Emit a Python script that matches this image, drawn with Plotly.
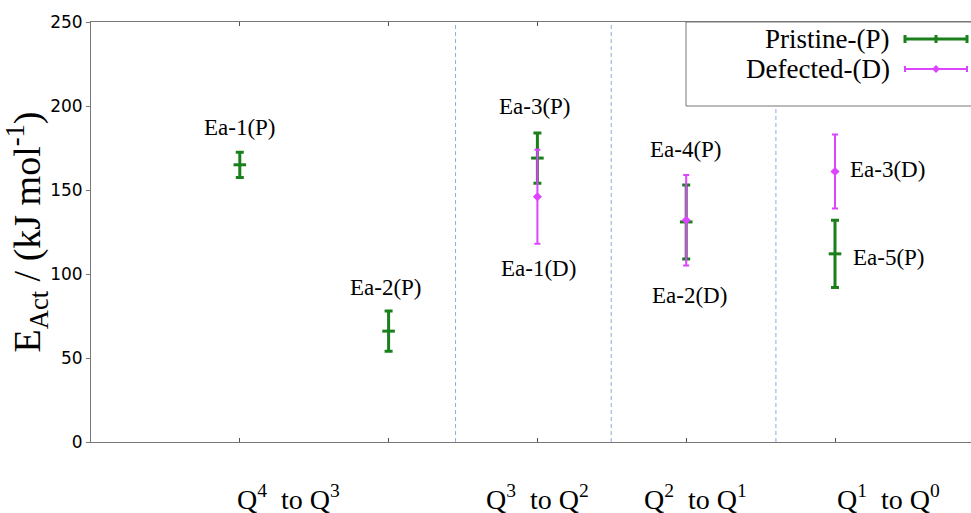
import plotly.graph_objects as go

# ---- data ----
pristine_labels = ["Ea-1(P)", "Ea-2(P)", "Ea-3(P)", "Ea-4(P)", "Ea-5(P)"]
pristine_x = [1, 2, 3, 4, 5]
pristine_y = [165, 66, 169, 131, 112]
pristine_err = [7.5, 12, 15, 22, 20]

defected_labels = ["Ea-1(D)", "Ea-2(D)", "Ea-3(D)"]
defected_x = [3, 4, 5]
defected_y = [146, 132, 161]
defected_err = [28, 27, 22]

group_labels = ["Q<sup>4</sup>  to Q<sup>3</sup>", "Q<sup>3</sup>  to Q<sup>2</sup>",
                "Q<sup>2</sup>  to Q<sup>1</sup>", "Q<sup>1</sup>  to Q<sup>0</sup>"]
group_label_x = [1.33, 3.0, 4.06, 5.36]
separator_x = [2.45, 3.496, 4.603]

# label positions (data coords)
pristine_label_pos = [(1.0, 187), (1.98, 92), (2.985, 200), (4.0, 174), (5.36, 110)]
defected_label_pos = [(3.005, 103), (4.02, 87.5), (5.35, 162)]

GREEN = "#1b7f1b"
MAGENTA = "#dd44ff"
SERIF = "Liberation Serif, Times New Roman, serif"
SANS = "DejaVu Sans, sans-serif"

fig = go.Figure()

fig.add_trace(go.Scatter(
    x=pristine_x, y=pristine_y, mode="markers", name="Pristine-(P)",
    marker=dict(symbol="line-ew", size=9, color=GREEN, line=dict(color=GREEN, width=3)),
    error_y=dict(type="data", array=pristine_err, color=GREEN, thickness=3, width=4),
    showlegend=False,
))
fig.add_trace(go.Scatter(
    x=defected_x, y=defected_y, mode="markers", name="Defected-(D)",
    marker=dict(symbol="diamond", size=7, color=MAGENTA),
    error_y=dict(type="data", array=defected_err, color=MAGENTA, thickness=2, width=3),
    showlegend=False,
))

annotations = []
for lab, (ax, ay) in zip(pristine_labels, pristine_label_pos):
    annotations.append(dict(x=ax, y=ay, xref="x", yref="y", text=lab, showarrow=False,
                            font=dict(family=SERIF, size=23, color="black")))
for lab, (ax, ay) in zip(defected_labels, defected_label_pos):
    annotations.append(dict(x=ax, y=ay, xref="x", yref="y", text=lab, showarrow=False,
                            font=dict(family=SERIF, size=23, color="black")))
for lab, gx in zip(group_labels, group_label_x):
    annotations.append(dict(x=gx, y=-0.131, xref="x", yref="paper", text=lab, showarrow=False,
                            font=dict(family=SERIF, size=28, color="black"), yanchor="middle"))

shapes = []
for sx in separator_x:
    shapes.append(dict(type="line", x0=sx, x1=sx, y0=0, y1=1, xref="x", yref="paper",
                       line=dict(color="#8faadc", width=1, dash="4px,3px")))

# legend (manual, symbols on the right)
W, H = 971, 513
def lx(p): return (p - 91) / (971 - 91)
def ly(p): return (442 - p) / 420
shapes.append(dict(type="rect", xref="paper", yref="paper",
                   x0=lx(686), x1=1.02, y0=ly(106), y1=1.0,
                   line=dict(color="#777777", width=1), fillcolor="white", layer="above"))
legend_items = [("Pristine-(P)", GREEN, 39, 3, 4), ("Defected-(D)", MAGENTA, 69, 2, 3)]
for text, col, yy, th, cap in legend_items:
    shapes.append(dict(type="line", xref="paper", yref="paper", x0=lx(905), x1=lx(967),
                       y0=ly(yy), y1=ly(yy), line=dict(color=col, width=th), layer="above"))
    for ex in (905, 967):
        shapes.append(dict(type="line", xref="paper", yref="paper", x0=lx(ex), x1=lx(ex),
                           y0=ly(yy - cap), y1=ly(yy + cap), line=dict(color=col, width=th), layer="above"))
    if col == GREEN:
        shapes.append(dict(type="line", xref="paper", yref="paper", x0=lx(936), x1=lx(936),
                           y0=ly(yy - 4), y1=ly(yy + 4), line=dict(color=col, width=3), layer="above"))
    else:
        shapes.append(dict(type="path", xref="paper", yref="paper",
                           path=f"M {lx(936)},{ly(yy-4)} L {lx(940)},{ly(yy)} L {lx(936)},{ly(yy+4)} L {lx(932)},{ly(yy)} Z",
                           fillcolor=col, line=dict(color=col, width=0), layer="above"))
    annotations.append(dict(x=lx(892), y=ly(yy), xref="paper", yref="paper", text=text,
                            showarrow=False, xanchor="right", yanchor="middle",
                            font=dict(family=SERIF, size=27, color="black")))

fig.update_layout(
    width=W, height=H,
    margin=dict(l=91, r=0, t=22, b=71),
    plot_bgcolor="white", paper_bgcolor="white",
    showlegend=False,
    annotations=annotations,
    shapes=shapes,
    xaxis=dict(range=[0, 5.914], showgrid=False, zeroline=False,
               showline=True, linecolor="#777777", linewidth=1, mirror="allticks",
               tickvals=pristine_x, ticks="inside", ticklen=4, tickcolor="#555555",
               showticklabels=False),
    yaxis=dict(range=[0, 250], showgrid=False, zeroline=False,
               showline=True, linecolor="#777777", linewidth=1,
               tickvals=[0, 50, 100, 150, 200, 250], ticks="outside", ticklen=4, tickcolor="#777777",
               tickfont=dict(family=SANS, size=17, color="black"),
               title=dict(text="E<sub>Act</sub> / (kJ mol<sup>-1</sup>)",
                          font=dict(family=SERIF, size=38, color="black"), standoff=6)),
)

fig.write_html("out.html", config={"displayModeBar": False},
               post_script="document.body.style.margin='0';document.body.style.overflow='hidden';")
